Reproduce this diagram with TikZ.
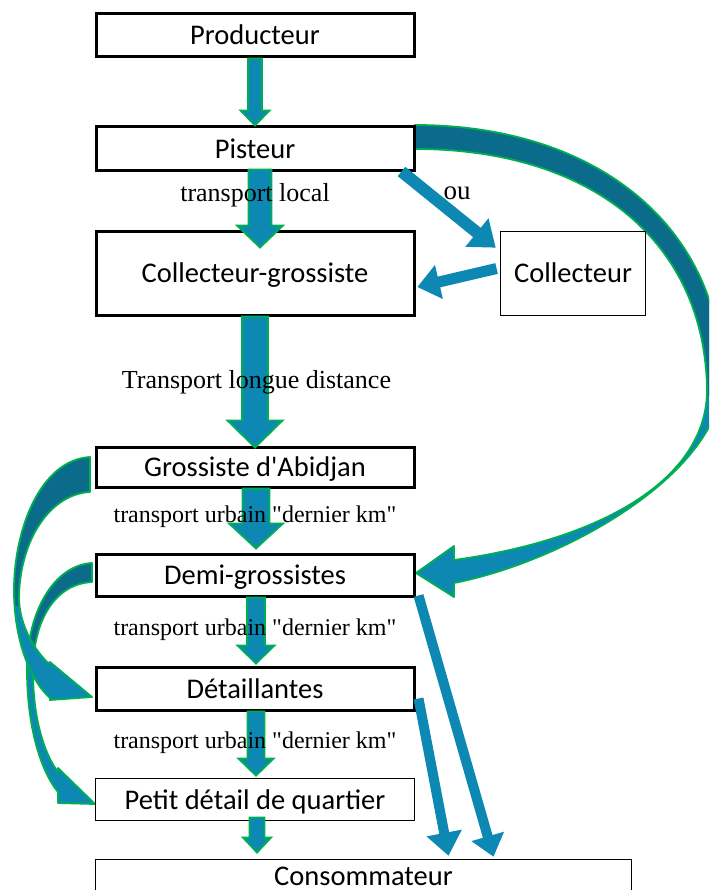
\documentclass[tikz,border=0pt]{standalone}
\usepackage{fontspec}
\setmainfont{Liberation Serif}[Ligatures=TeXOff]
\newfontfamily\boxfont{Carlito}[Ligatures=TeXOff]
\usetikzlibrary{calc}
\definecolor{arrblue}{RGB}{12,136,178}
\definecolor{arrdark}{RGB}{11,107,138}
\definecolor{arrgreen}{RGB}{0,176,80}
\newcommand{\blockarr}[6][]{%
  \path ($(#3)!#6!(#2)$) coordinate (bh);
  \filldraw[#1] ($(#2)!#4!90:(#3)$) -- ($(bh)!#4!90:(#3)$) -- ($(bh)!#5!90:(#3)$) -- (#3)
    -- ($(bh)!#5!-90:(#3)$) -- ($(bh)!#4!-90:(#3)$) -- ($(#2)!#4!-90:(#3)$) -- cycle;}
\tikzset{
  box/.style={draw, rectangle, line width=3pt, inner sep=0pt, text height=19pt, text depth=0pt, font=\boxfont\fontsize{28.5}{34}\selectfont},
  thinbox/.style={box, line width=1.8pt},
  vertarr/.style={fill=arrblue, draw=arrgreen, line width=1.8pt, line join=miter},
  diagarr/.style={fill=arrblue, draw=none},
  curvarr/.style={draw=arrgreen, line width=1.8pt, line join=round},
  lab/.style={font=\fontsize{26}{30}\selectfont, anchor=base, inner sep=0pt},
  labsmall/.style={lab, font=\fontsize{24}{28}\selectfont}
}
\def\rarc{(415,125) .. controls (600,125) and (722,230) .. (722,380) .. controls (722,470) and (570,560) .. (454,583) -- (454,597) -- (416,573) -- (454,546) -- (454,560) .. controls (600,540) and (707,480) .. (707,390) .. controls (705,240) and (590,149) .. (415,149) -- cycle}
\def\larcA{(90,457) .. controls (40,460) and (14,530) .. (14,590) .. controls (14,640) and (30,680) .. (50,698) -- (50,700) -- (92,697) -- (50,662) -- (48,663) .. controls (30,645) and (19,620) .. (19,597) .. controls (20,540) and (50,494) .. (90,492) -- cycle}
\def\larcB{(92,563) .. controls (55,565) and (27,610) .. (27,670) .. controls (27,725) and (40,770) .. (58,792) -- (58,803) -- (95,804) -- (58,768) -- (58,772) .. controls (45,755) and (33,720) .. (33,672) .. controls (33,620) and (55,584) .. (92,582) -- cycle}
\begin{document}
\begin{tikzpicture}[x=1pt,y=-1pt]
\useasboundingbox (0,0) rectangle (709,890);
\fill[white] (0,0) rectangle (709,890);
\clip (0,0) rectangle (709,890);

% curved arrows
\fill[arrblue] \rarc;
\begin{scope}\clip (300,0) rectangle (730,395); \fill[arrdark] \rarc; \end{scope}
\draw[curvarr] \rarc;

\fill[arrblue] \larcB;
\begin{scope}\clip (0,500) rectangle (120,655); \fill[arrdark] \larcB; \end{scope}
\draw[curvarr] \larcB;

\fill[arrblue] \larcA;
\begin{scope}\clip (0,400) rectangle (120,605); \fill[arrdark] \larcA; \end{scope}
\draw[curvarr] \larcA;

% boxes
\node[box, minimum width=318pt, minimum height=43pt] (prod) at (255,35.5) {Producteur};
\node[box, minimum width=318pt, minimum height=44pt] (pist) at (255,149) {Pisteur};
\node[box, minimum width=318pt, minimum height=83pt] (cg) at (255,273.5) {Collecteur-grossiste};
\node[thinbox, minimum width=145pt, minimum height=84pt] (coll) at (573,273.5) {Collecteur};
\node[box, minimum width=318pt, minimum height=40pt] (gabj) at (255,467) {Grossiste d'Abidjan};
\node[box, minimum width=318pt, minimum height=42pt] (demi) at (255,575) {Demi-grossistes};
\node[box, minimum width=318pt, minimum height=43pt] (detail) at (255,688.5) {Détaillantes};
\node[thinbox, minimum width=319pt, minimum height=42pt] (petit) at (255,799.5) {Petit détail de quartier};
\node[thinbox, minimum width=536pt, minimum height=44pt, text depth=12pt] (conso) at (363.5,881.5) {Consommateur};

% arrow end points
\coordinate (a1s) at (prod.south);
\coordinate (a1e) at (pist.north);
\coordinate (a2s) at ($(pist.south)+(5,-3)$);
\coordinate (a2e) at ($(cg.north)+(5,17)$);
\coordinate (a3s) at (cg.south);
\coordinate (a3e) at ($(gabj.north)+(0,2)$);
\coordinate (a4s) at ($(gabj.south)+(1,0)$);
\coordinate (a4e) at ($(demi.north)+(1,-4)$);
\coordinate (a5s) at ($(demi.south)+(1,0)$);
\coordinate (a5e) at ($(detail.north)+(1,-2)$);
\coordinate (a6s) at ($(detail.south)+(1,0)$);
\coordinate (a6e) at ($(petit.north)+(1,-2)$);
\coordinate (a7s) at ($(petit.south)+(2,-4)$);
\coordinate (a7e) at ($(conso.north -| petit.south)+(2,-6)$);
\coordinate (ous) at ($(pist.south east)+(-14,-1)$);
\coordinate (oue) at ($(coll.north west)+(-4,17)$);
\coordinate (c2s) at ($(coll.west)+(-3,-5)$);
\coordinate (c2e) at ($(cg.east)+(2,13.5)$);
\coordinate (d1s) at ($(demi.south east)+(3,-2)$);
\coordinate (d1e) at ($(conso.north)+(130,-2)$);
\coordinate (d2s) at ($(detail.south east)+(3,-13)$);
\coordinate (d2e) at ($(conso.north)+(85,-3)$);

% vertical block arrows
\blockarr[vertarr]{a1s}{a1e}{7pt}{14.5pt}{15pt}
\blockarr[vertarr]{a2s}{a2e}{11.5pt}{23pt}{22pt}
\blockarr[vertarr]{a3s}{a3e}{13pt}{27.5pt}{27pt}
\blockarr[vertarr]{a4s}{a4e}{13.5pt}{27pt}{25pt}
\blockarr[vertarr]{a5s}{a5e}{9pt}{18.5pt}{18pt}
\blockarr[vertarr]{a6s}{a6e}{8.5pt}{17.5pt}{17pt}
\blockarr[vertarr]{a7s}{a7e}{7.5pt}{14pt}{15pt}

% diagonal arrows
\blockarr[diagarr]{ous}{oue}{6pt}{18.4pt}{24pt}
\blockarr[diagarr]{c2s}{c2e}{5.5pt}{17.5pt}{22pt}
\blockarr[diagarr]{d1s}{d1e}{5pt}{17pt}{21pt}
\blockarr[diagarr]{d2s}{d2e}{5pt}{18pt}{23pt}

% labels
\node[lab] (l1) at (255,202) {transport local};
\node[lab] (l2) at (256.5,388) {Transport longue distance};
\node[labsmall] (l3) at (255,522) {transport urbain "dernier km"};
\node[labsmall] (l4) at (255,635) {transport urbain "dernier km"};
\node[labsmall] (l5) at (255,748) {transport urbain "dernier km"};
\node[lab, font=\fontsize{27}{30}\selectfont] (ou) at (457,200) {ou};
\end{tikzpicture}
\end{document}
